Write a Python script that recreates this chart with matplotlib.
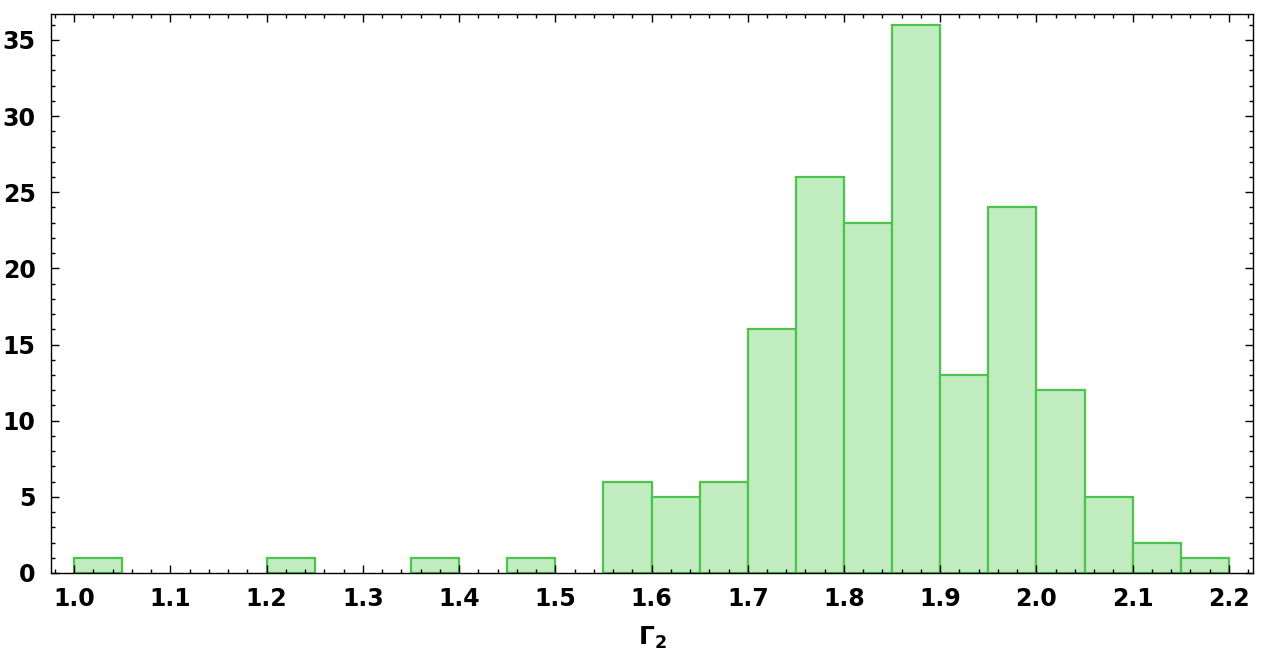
import matplotlib.pyplot as plt
import numpy as np
from matplotlib.ticker import MultipleLocator

# histogram bins (width 0.05) and counts
bin_edges = [1.00, 1.05, 1.10, 1.15, 1.20, 1.25, 1.30, 1.35, 1.40, 1.45,
             1.50, 1.55, 1.60, 1.65, 1.70, 1.75, 1.80, 1.85, 1.90, 1.95,
             2.00, 2.05, 2.10, 2.15, 2.20]
counts = [1, 0, 0, 0, 1, 0, 0, 1, 0, 1,
          0, 6, 5, 6, 16, 26, 23, 36, 13, 24,
          12, 5, 2, 1]
x_ticks = [1.0, 1.1, 1.2, 1.3, 1.4, 1.5, 1.6, 1.7, 1.8, 1.9, 2.0, 2.1, 2.2]
y_ticks = [0, 5, 10, 15, 20, 25, 30, 35]

fig = plt.figure(figsize=(12.77, 6.52), dpi=100)
ax = fig.add_axes([51 / 1277, 1 - 573 / 652, 1202 / 1277, 559 / 652])

edges = np.array(bin_edges)
lefts = edges[:-1]
widths = np.diff(edges)
for l, w, c in zip(lefts, widths, counts):
    if c > 0:
        ax.bar(l, c, width=w, align="edge", color="#c0ecc0",
               edgecolor="#4cc44c", linewidth=1.6)

ax.set_xlim(0.976, 2.225)
ax.set_ylim(0, 36.7)
ax.set_xticks(x_ticks)
ax.set_yticks(y_ticks)
ax.xaxis.set_minor_locator(MultipleLocator(0.02))
ax.yaxis.set_minor_locator(MultipleLocator(1))
ax.set_xticklabels([f"{v:.1f}" for v in x_ticks])

ax.tick_params(which="both", direction="in", top=True, right=True,
               width=1.0, labelsize=17)
ax.tick_params(which="major", length=6)
ax.tick_params(which="minor", length=3)
ax.tick_params(axis="x", pad=10)
ax.tick_params(axis="y", pad=11)
for lab in ax.get_xticklabels() + ax.get_yticklabels():
    lab.set_fontweight("bold")
for s in ax.spines.values():
    s.set_linewidth(1.0)

ax.set_xlabel(r"$\mathbf{\Gamma_2}$", fontsize=18, labelpad=10)

fig.savefig("out.png", dpi=100)
